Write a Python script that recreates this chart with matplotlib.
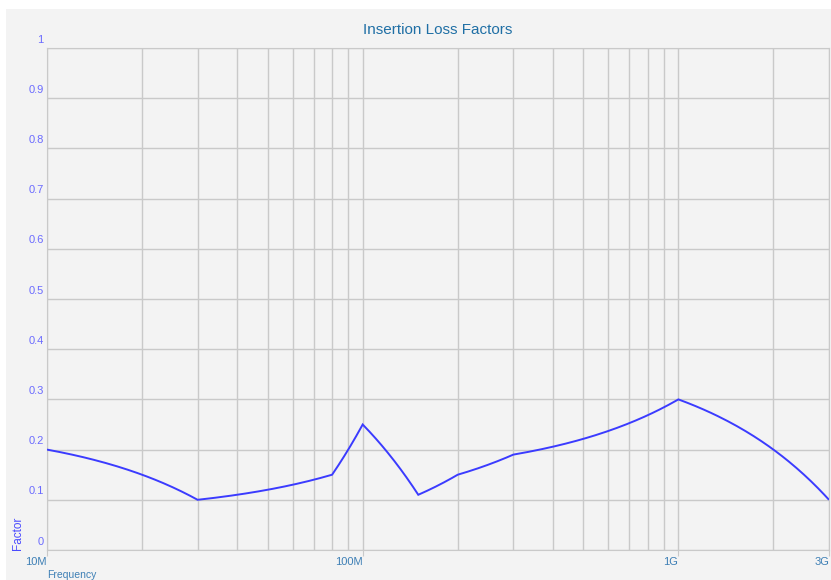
import numpy as np
import matplotlib
matplotlib.use('Agg')
import matplotlib.pyplot as plt
from matplotlib.path import Path
from matplotlib.patches import PathPatch, Rectangle
from matplotlib.ticker import FixedLocator, NullFormatter

plt.rcParams['font.family'] = ['Liberation Sans', 'DejaVu Sans']

# Data (frequency in Hz, loss factor)
freq = [10e6, 30e6, 80e6, 100e6, 150e6, 200e6, 300e6, 1e9, 3e9]
factor = [0.20, 0.10, 0.15, 0.25, 0.11, 0.15, 0.19, 0.30, 0.10]

x_tick_vals = [10e6, 100e6, 1e9, 3e9]
x_tick_labels = ['10M', '100M', '1G', '3G']
y_tick_vals = [0, 0.1, 0.2, 0.3, 0.4, 0.5, 0.6, 0.7, 0.8, 0.9, 1]
y_tick_labels = ['0', '0.1', '0.2', '0.3', '0.4', '0.5', '0.6', '0.7', '0.8', '0.9', '1']

panel_bg = '#f3f3f3'
grid_col = '#c9c9c9'

fig = plt.figure(figsize=(8.31, 5.8), dpi=100, facecolor='white')
# light panel behind everything, leaving a thin white strip top/left
fig.patches.append(Rectangle((6 / 831, 0), 1, 1 - 9 / 580, transform=fig.transFigure,
                             facecolor=panel_bg, edgecolor='none', zorder=-1))

ax = fig.add_axes([47 / 831, 30 / 580, 782 / 831, 502 / 580])
ax.set_facecolor(panel_bg)
ax.set_xscale('log')
ax.set_xlim(10e6, 3e9)
ax.set_ylim(0, 1)

# segments are straight in linear frequency, so let the path be resampled
# by matplotlib before the log transform is applied
path = Path(np.column_stack([freq, factor])).interpolated(60)
ax.add_patch(PathPatch(path, facecolor='none', edgecolor='#3b3bff', lw=1.4,
                       transform=ax.transData, zorder=3))

# gridlines: all log minor positions plus y steps
minor = [m * 10 ** e for e in (7, 8, 9) for m in range(2, 10) if m * 10 ** e < 3e9]
ax.xaxis.set_minor_locator(FixedLocator(minor))
ax.xaxis.set_minor_formatter(NullFormatter())
ax.xaxis.set_major_locator(FixedLocator(x_tick_vals))
ax.set_xticklabels([])
ax.grid(True, which='both', axis='x', color=grid_col, lw=1)
ax.set_yticks(y_tick_vals)
ax.set_yticklabels([])
ax.grid(True, which='major', axis='y', color=grid_col, lw=1)
ax.set_axisbelow(True)
ax.tick_params(axis='x', which='major', length=4, color=grid_col)
ax.tick_params(axis='x', which='minor', length=0)
ax.tick_params(axis='y', length=0)

for s in ax.spines.values():
    s.set_color(grid_col)

# tick labels: x right-aligned at the tick, y sitting just above the gridline
for v, lab in zip(x_tick_vals, x_tick_labels):
    ax.text(v, -0.014, lab, transform=ax.get_xaxis_transform(), ha='right', va='top',
            fontsize=8, color='#3d7fb5')
for v, lab in zip(y_tick_vals, y_tick_labels):
    ax.annotate(lab, xy=(0, v), xycoords=('axes fraction', 'data'), xytext=(-2.5, 2.5),
                textcoords='offset points', ha='right', va='bottom', fontsize=8,
                color='#6b6bff')

ax.set_title('Insertion Loss Factors', fontsize=11, color='#1f6fa5', pad=10)
fig.text(18 / 831, 1 - 550 / 580, 'Factor', rotation=90, ha='center', va='bottom',
         fontsize=8.5, color='#4a4aff')
fig.text(47 / 831, 1 - 575 / 580, 'Frequency', ha='left', va='center',
         fontsize=7.5, color='#3d7fb5')

fig.savefig('out.png', dpi=100, facecolor=fig.get_facecolor())
